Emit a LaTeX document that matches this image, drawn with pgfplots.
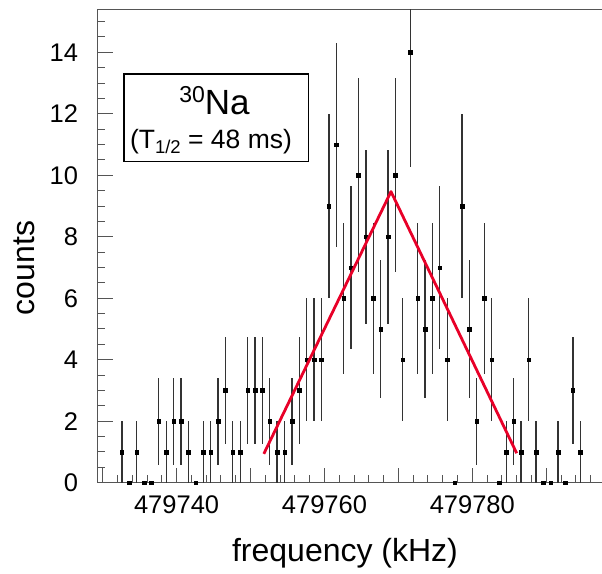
\documentclass[border=0pt]{standalone}
\usepackage{fontspec}
\setmainfont{Liberation Sans}
\usepackage{pgfplots}
\usepackage{pgfplotstable}
\pgfplotsset{compat=1.18}

\definecolor{fitred}{RGB}{232,0,40}
\definecolor{axgray}{RGB}{85,85,85}

% df = frequency - 479700 kHz (offset keeps pgfplots' precision), n = counts, err = sqrt(n)
\pgfplotstableread{
df    n   err
32.6  1   1
33.6  0   0
34.6  1   1
35.6  0   0
36.6  0   0
37.6  2   1.414
38.6  1   1
39.6  2   1.414
40.6  2   1.414
41.6  1   1
42.6  0   0
43.6  1   1
44.6  1   1
45.6  2   1.414
46.6  3   1.732
47.6  1   1
48.6  1   1
49.6  3   1.732
50.6  3   1.732
51.6  3   1.732
52.6  2   1.414
53.6  1   1
54.6  1   1
55.6  2   1.414
56.6  3   1.732
57.6  4   2
58.6  4   2
59.6  4   2
60.6  9   3
61.6  11  3.317
62.6  6   2.449
63.6  7   2.646
64.6  10  3.162
65.6  8   2.828
66.6  6   2.449
67.6  5   2.236
68.6  8   2.828
69.6  10  3.162
70.6  4   2
71.6  14  3.742
72.6  6   2.449
73.6  5   2.236
74.6  6   2.449
75.6  7   2.646
76.6  4   2
77.6  0   0
78.6  9   3
79.6  5   2.236
80.6  2   1.414
81.6  6   2.449
82.6  4   2
83.6  0   0
84.6  1   1
85.6  2   1.414
86.6  1   1
87.6  4   2
88.6  1   1
89.6  0   0
90.6  0   0
91.6  1   1
92.6  0   0
93.6  3   1.732
94.6  1   1
}\counts

\begin{document}
\begin{tikzpicture}
\begin{axis}[
  scale only axis,
  width=504.3pt, height=473.4pt,
  xmin=29.33, xmax=97.54,
  ymin=0, ymax=15.4,
  axis x line*=box, axis y line*=left,
  axis line style={-, draw=axgray, line width=1.2pt},
  xtick pos=bottom, ytick pos=left,
  tick align=inside,
  xtick={30,40,...,90},
  xticklabels={,479740,,479760,,479780,},
  minor xtick={30,32,...,96},
  ytick={0,2,...,14},
  yticklabels={0,2,4,6,8,10,12,14},
  minor ytick={0.5,1,...,15},
  major tick length=15pt, minor tick length=7.7pt,
  tick style={draw=axgray, line width=1pt},
  xticklabel style={font=\fontsize{25.5}{30}\selectfont, inner sep=0pt, anchor=north, yshift=-12.3pt},
  yticklabel style={font=\fontsize{25.5}{30}\selectfont, inner sep=0pt, anchor=east, xshift=-19.4pt},
  xlabel={frequency (kHz)},
  xlabel style={at={(axis description cs:0.4904,-0.1485)}, anchor=center, inner sep=0pt, font=\fontsize{32}{38}\selectfont},
  ylabel={counts},
  ylabel style={at={(axis description cs:-0.1461,0.4535)}, anchor=center, inner sep=0pt, font=\fontsize{32}{38}\selectfont},
  clip mode=individual,
]
\addplot[only marks, mark=square*, mark size=1.8pt, black,
  mark options={draw=black, fill=black},
  error bars/.cd, y dir=both, y explicit, error mark=none,
  error bar style={line width=1.3pt, black!80}]
  table[x=df, y=n, y error=err] {\counts};
\addplot[fitred, line width=2.8pt, line join=round] coordinates {(51.8,0.94) (69.0,9.47) (86.0,0.96)};

\draw[black, line width=1.2pt] (rel axis cs:0.0522,0.6781) rectangle (rel axis cs:0.4176,0.8633);
\node[anchor=base, inner sep=0pt, font=\fontsize{35}{40}\selectfont] at (rel axis cs:0.2316,0.7782)
  {\raisebox{12pt}{\fontsize{23}{26}\selectfont 30}Na};
\node[anchor=base, inner sep=0pt, font=\fontsize{26.5}{32}\selectfont] at (rel axis cs:0.2247,0.7064)
  {(T\raisebox{-5pt}{\fontsize{18.5}{22}\selectfont 1/2} = 48 ms)};
\end{axis}
\pgfresetboundingbox
\path[use as bounding box] ([shift={(-97.7pt,-90.3pt)}]current axis.south west) rectangle ([shift={(0pt,9.3pt)}]current axis.north east);
\end{tikzpicture}
\end{document}
